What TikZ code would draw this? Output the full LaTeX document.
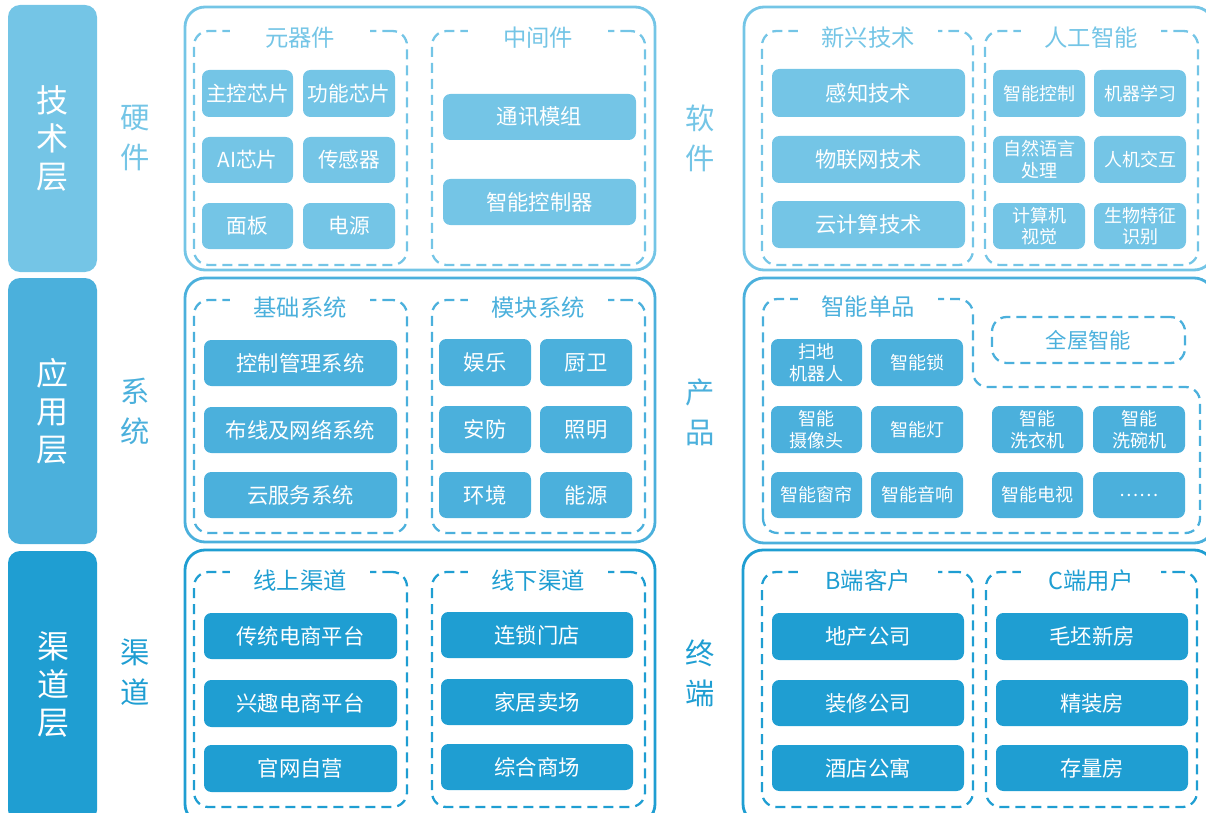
\documentclass[tikz,border=0pt]{standalone}
\usepackage{fontspec}
\setmainfont{Noto Sans CJK SC}
\definecolor{cT}{HTML}{74C5E6}
\definecolor{cM}{HTML}{4BB0DC}
\definecolor{cB}{HTML}{1F9ED2}
\tikzset{
 bar/.style={fill=#1, rounded corners=9pt, text=white, font=\fontsize{24}{28.5}\selectfont, align=center},
 outer/.style={draw=#1, line width=2.1pt, rounded corners=15pt},
 grp/.style={draw=#1, line width=1.7pt, dash pattern=on 7.5pt off 4.5pt, rounded corners=11pt},
 ttl/.style={fill=white, text=#1, font=\fontsize{17.5}{20}\selectfont, minimum width=105pt, inner sep=1pt},
 side/.style={text=#1, font=\fontsize{22}{30}\selectfont, align=center},
 item/.style={fill=#1, rounded corners=5.5pt, text=white, font=\fontsize{16}{19}\selectfont, align=center},
 itemM/.style={item=#1, font=\fontsize{15.5}{18}\selectfont},
 itemS/.style={item=#1, font=\fontsize{13.5}{16}\selectfont},
}
\newcommand\mybox[7]{\node[#1, inner sep=0pt, outer sep=0pt, minimum width={(#4-#2)*0.75pt}, minimum height={(#5-#3)*0.75pt}] (#6) at ({(#2+#4)/2},{(#3+#5)/2}) {#7};}
\begin{document}
\begin{tikzpicture}[x=0.75pt,y=-0.75pt]
\useasboundingbox (0,0) rectangle (1206,813);
\clip (0,0) rectangle (1206,813);
% layer bars
\mybox{bar=cT}{8}{5}{97}{272}{barT}{技\\术\\层}
\mybox{bar=cM}{8}{278}{97}{544}{barM}{应\\用\\层}
\mybox{bar=cB}{8}{551}{97}{822}{barB}{}
\node[bar=cB] (barBtxt) at (53,684) {渠\\道\\层};
% side labels
\node[side=cT] (sHW) at (135,138) {硬\\件};
\node[side=cT] (sSW) at (700,138) {软\\件};
\node[side=cM] (sSys) at (135,411) {系\\统};
\node[side=cM] (sPrd) at (700,412) {产\\品};
\node[side=cB] (sCh) at (135,672) {渠\\道};
\node[side=cB] (sTm) at (700,673) {终\\端};
% outer frames
\mybox{outer=cT}{185}{7}{655}{270}{oTL}{}
\mybox{outer=cT}{744}{7}{1214}{270}{oTR}{}
\mybox{outer=cM}{185}{278}{655}{542}{oML}{}
\mybox{outer=cM}{744}{278}{1214}{543}{oMR}{}
\mybox{outer=cB}{185}{550}{655}{824}{oBL}{}
\mybox{outer=cB}{743}{550}{1214}{824}{oBR}{}
% dashed groups
\mybox{grp=cT}{194}{31}{407}{265}{gTL1}{}
\mybox{grp=cT}{432}{31}{645}{265}{gTL2}{}
\mybox{grp=cT}{762}{31}{973}{265}{gTR1}{}
\mybox{grp=cT}{985}{31}{1198}{265}{gTR2}{}
\mybox{grp=cM}{194}{300}{407}{533}{gML1}{}
\mybox{grp=cM}{432}{300}{645}{533}{gML2}{}
\draw[grp=cM] (763,533) -- (763,299) -- (973,299) -- (973,387) -- (1200,387) -- (1200,533) -- cycle;
\mybox{grp=cM}{992}{317}{1185}{363}{gWhole}{}
\node[text=cM, font=\fontsize{16}{19}\selectfont] (tWhole) at (gWhole.center) {全屋智能};
\mybox{grp=cB}{194}{572}{407}{807}{gBL1}{}
\mybox{grp=cB}{432}{572}{645}{807}{gBL2}{}
\mybox{grp=cB}{762}{572}{973}{807}{gBR1}{}
\mybox{grp=cB}{986}{572}{1197}{807}{gBR2}{}
% group titles
\node[ttl=cT] (tTL1) at (300,38) {元器件};
\node[ttl=cT] (tTL2) at (538,38) {中间件};
\node[ttl=cT] (tTR1) at (868,38) {新兴技术};
\node[ttl=cT] (tTR2) at (1091,38) {人工智能};
\node[ttl=cM] (tML1) at (300,308) {基础系统};
\node[ttl=cM] (tML2) at (538,308) {模块系统};
\node[ttl=cM] (tMR1) at (868,307) {智能单品};
\node[ttl=cB] (tBL1) at (300,581) {线上渠道};
\node[ttl=cB] (tBL2) at (538,581) {线下渠道};
\node[ttl=cB] (tBR1) at (868,581) {B端客户};
\node[ttl=cB] (tBR2) at (1091,581) {C端用户};
% top-left items
\mybox{itemM=cT}{202}{70}{293}{117}{a1}{主控芯片}
\mybox{itemM=cT}{303}{70}{395}{117}{a2}{功能芯片}
\mybox{itemM=cT}{202}{137}{293}{183}{a3}{AI芯片}
\mybox{itemM=cT}{303}{137}{395}{183}{a4}{传感器}
\mybox{itemM=cT}{202}{203}{293}{249}{a5}{面板}
\mybox{itemM=cT}{303}{203}{395}{249}{a6}{电源}
\mybox{item=cT}{443}{94}{636}{140}{a7}{通讯模组}
\mybox{item=cT}{443}{179}{636}{225}{a8}{智能控制器}
% top-right items
\mybox{item=cT}{772}{69}{965}{117}{b1}{感知技术}
\mybox{item=cT}{772}{136}{965}{183}{b2}{物联网技术}
\mybox{item=cT}{772}{201}{965}{248}{b3}{云计算技术}
\mybox{itemS=cT}{993}{70}{1085}{117}{b4}{智能控制}
\mybox{itemS=cT}{1094}{70}{1186}{117}{b5}{机器学习}
\mybox{itemS=cT}{993}{136}{1085}{183}{b6}{自然语言\\处理}
\mybox{itemS=cT}{1094}{136}{1186}{183}{b7}{人机交互}
\mybox{itemS=cT}{993}{203}{1085}{249}{b8}{计算机\\视觉}
\mybox{itemS=cT}{1094}{203}{1186}{249}{b9}{生物特征\\识别}
% middle-left items
\mybox{item=cM}{204}{340}{397}{386}{c1}{控制管理系统}
\mybox{item=cM}{204}{407}{397}{453}{c2}{布线及网络系统}
\mybox{item=cM}{204}{472}{397}{518}{c3}{云服务系统}
\mybox{item=cM}{439}{339}{531}{386}{c4}{娱乐}
\mybox{item=cM}{540}{339}{632}{386}{c5}{厨卫}
\mybox{item=cM}{439}{406}{531}{453}{c6}{安防}
\mybox{item=cM}{540}{406}{632}{453}{c7}{照明}
\mybox{item=cM}{439}{472}{531}{518}{c8}{环境}
\mybox{item=cM}{540}{472}{632}{518}{c9}{能源}
% middle-right items
\mybox{itemS=cM}{771}{339}{862}{386}{d1}{扫地\\机器人}
\mybox{itemS=cM}{871}{339}{963}{386}{d2}{智能锁}
\mybox{itemS=cM}{771}{406}{862}{453}{d3}{智能\\摄像头}
\mybox{itemS=cM}{871}{406}{963}{453}{d4}{智能灯}
\mybox{itemS=cM}{771}{472}{862}{518}{d5}{智能窗帘}
\mybox{itemS=cM}{871}{472}{963}{518}{d6}{智能音响}
\mybox{itemS=cM}{992}{406}{1083}{453}{d7}{智能\\洗衣机}
\mybox{itemS=cM}{1093}{406}{1185}{453}{d8}{智能\\洗碗机}
\mybox{itemS=cM}{992}{472}{1083}{518}{d9}{智能电视}
\mybox{itemS=cM}{1093}{472}{1185}{518}{d10}{……}
% bottom-left items
\mybox{item=cB}{204}{613}{397}{659}{e1}{传统电商平台}
\mybox{item=cB}{204}{680}{397}{727}{e2}{兴趣电商平台}
\mybox{item=cB}{204}{745}{397}{792}{e3}{官网自营}
\mybox{item=cB}{441}{612}{633}{658}{e4}{连锁门店}
\mybox{item=cB}{441}{679}{633}{725}{e5}{家居卖场}
\mybox{item=cB}{441}{744}{633}{790}{e6}{综合商场}
% bottom-right items
\mybox{item=cB}{772}{613}{964}{660}{f1}{地产公司}
\mybox{item=cB}{772}{680}{964}{726}{f2}{装修公司}
\mybox{item=cB}{772}{745}{964}{791}{f3}{酒店公寓}
\mybox{item=cB}{996}{613}{1188}{660}{f4}{毛坯新房}
\mybox{item=cB}{996}{680}{1188}{726}{f5}{精装房}
\mybox{item=cB}{996}{745}{1188}{791}{f6}{存量房}
\end{tikzpicture}
\end{document}
